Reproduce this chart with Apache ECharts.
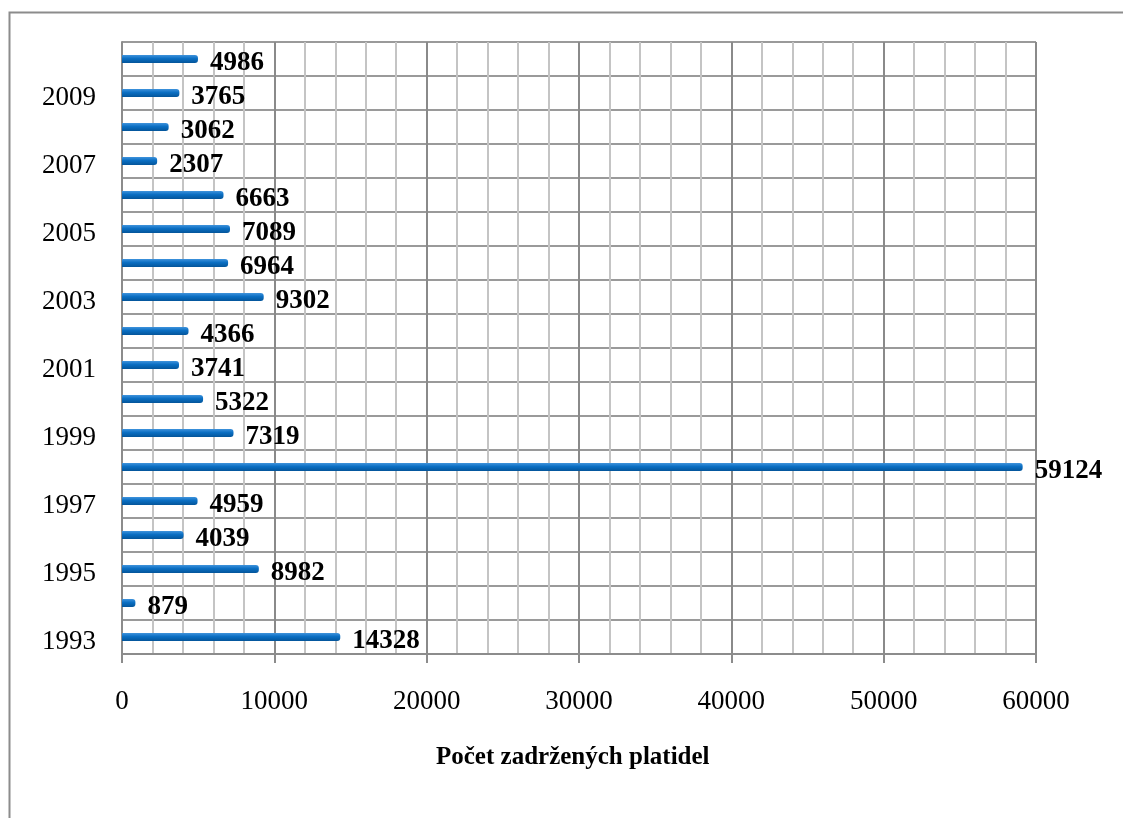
<!DOCTYPE html>
<html>
<head>
<meta charset="utf-8">
<script src="https://cdn.jsdelivr.net/npm/echarts@6/dist/echarts.min.js"></script>
<style>
  html, body { margin: 0; padding: 0; background: #fff; }
  #chart { width: 1123px; height: 818px; }
</style>
</head>
<body>
<div id="chart"></div>
<script>
const years = ['1993', '1994', '1995', '1996', '1997', '1998', '1999', '2000', '2001',
  '2002', '2003', '2004', '2005', '2006', '2007', '2008', '2009', '2010']
const counts = [14328, 879, 8982, 4039, 4959, 59124, 7319, 5322, 3741,
  4366, 9302, 6964, 7089, 6663, 2307, 3062, 3765, 4986]
const xTicks = [0, 10000, 20000, 30000, 40000, 50000, 60000]
const axisTitle = 'Počet zadržených platidel'

const serif = '"Liberation Serif", "DejaVu Serif", serif'

const chart = echarts.init(document.getElementById('chart'), null, { renderer: 'canvas' })

const option = {
  animation: false,
  backgroundColor: '#fff',
  graphic: [
    {
      type: 'rect',
      shape: { x: 9.5, y: 12.5, width: 1300, height: 1000 },
      style: { fill: 'none', stroke: '#8c8c8c', lineWidth: 2 },
      silent: true
    }
  ],
  title: {
    text: axisTitle,
    left: 431,
    top: 740,
    textStyle: {
      fontFamily: serif,
      fontWeight: 'bold',
      fontSize: 25,
      color: '#000'
    }
  },
  grid: {
    left: 122,
    top: 42,
    width: 914,
    height: 612,
    containLabel: false
  },
  xAxis: {
    type: 'value',
    min: xTicks[0],
    max: xTicks[xTicks.length - 1],
    interval: 10000,
    axisLine: { show: true, lineStyle: { color: '#8c8c8c', width: 2 } },
    axisTick: { show: true, length: 9, lineStyle: { color: '#8c8c8c', width: 2 } },
    axisLabel: {
      margin: 34,
      fontFamily: serif,
      fontSize: 27,
      color: '#000',
      formatter: v => String(v)
    },
    splitLine: { show: true, lineStyle: { color: '#8a8a8a', width: 2 } },
    minorTick: { show: false, splitNumber: 5 },
    minorSplitLine: { show: true, lineStyle: { color: '#c4c4c4', width: 2 } }
  },
  yAxis: {
    type: 'category',
    data: years,
    axisLine: { show: true, lineStyle: { color: '#8c8c8c', width: 2 } },
    axisTick: { show: false },
    axisLabel: {
      interval: 1,
      margin: 26,
      fontFamily: serif,
      fontSize: 27,
      color: '#000',
      verticalAlign: 'top',
      lineHeight: 10
    },
    splitLine: { show: true, interval: 0, lineStyle: { color: '#9a9a9a', width: 2 } }
  },
  series: [
    {
      type: 'bar',
      data: counts,
      barWidth: 8,
      itemStyle: {
        color: new echarts.graphic.LinearGradient(0, 0, 0, 1, [
          { offset: 0, color: '#3f93dc' },
          { offset: 0.45, color: '#0a6ec2' },
          { offset: 1, color: '#04559a' }
        ]),
        borderRadius: [0, 3, 3, 0]
      },
      label: {
        show: true,
        position: 'right',
        distance: 12,
        offset: [0, 4],
        fontFamily: serif,
        fontWeight: 'bold',
        fontSize: 27,
        color: '#000'
      }
    }
  ]
}

chart.setOption(option)
</script>
</body>
</html>
